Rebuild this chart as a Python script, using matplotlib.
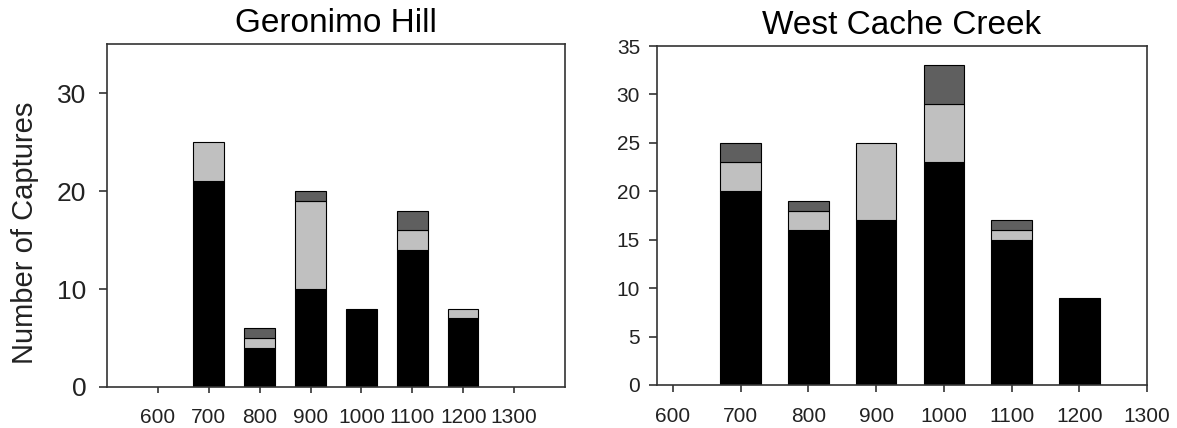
import numpy as np
import matplotlib
matplotlib.use("Agg")
import matplotlib.pyplot as plt

plt.rcParams['font.family'] = ['Liberation Sans', 'DejaVu Sans']

# Data: elevation classes (x) and stacked capture counts per panel
elev = [700, 800, 900, 1000, 1100, 1200]
tick_vals = [600, 700, 800, 900, 1000, 1100, 1200, 1300]

# Geronimo Hill
gh_black = [21, 4, 10, 8, 14, 7]
gh_light = [4, 1, 9, 0, 2, 1]
gh_dark = [0, 1, 1, 0, 2, 0]

# West Cache Creek
wc_black = [20, 16, 17, 23, 15, 9]
wc_light = [3, 2, 8, 6, 1, 0]
wc_dark = [2, 1, 0, 4, 1, 0]

c_black = 'black'
c_light = '#c0c0c0'
c_dark = '#5f5f5f'
spine_col = '#333333'
text_col = '#222222'

fig = plt.figure(figsize=(11.77, 4.28), dpi=100)
ax1 = fig.add_axes([0.0909, 0.0958, 0.480 - 0.0909, 0.897 - 0.0958])
ax2 = fig.add_axes([0.558, 0.1005, 0.9745 - 0.558, 0.8925 - 0.1005])


def stacked(ax, black, light, dark):
    x = np.array(elev)
    b = np.array(black)
    l = np.array(light)
    d = np.array(dark)
    ax.bar(x, b, width=60, color=c_black, edgecolor='black', linewidth=0.8)
    mask = l > 0
    ax.bar(x[mask], l[mask], bottom=b[mask], width=60, color=c_light,
           edgecolor='black', linewidth=0.8)
    mask = d > 0
    ax.bar(x[mask], d[mask], bottom=(b + l)[mask], width=60, color=c_dark,
           edgecolor='black', linewidth=0.8)
    for s in ax.spines.values():
        s.set_color(spine_col)
        s.set_linewidth(1.2)


stacked(ax1, gh_black, gh_light, gh_dark)
ax1.set_xlim(500, 1400)
ax1.set_ylim(0, 35)
ax1.set_yticks([0, 10, 20, 30])
ax1.set_xticks(tick_vals)
ax1.tick_params(axis='y', labelsize=19, length=6, width=1.2, pad=9,
                colors=spine_col, labelcolor=text_col)
ax1.tick_params(axis='x', labelsize=15, length=4, width=1.2, pad=11,
                colors=spine_col, labelcolor=text_col)
ax1.set_title('Geronimo Hill', fontsize=24, pad=9)
ax1.set_ylabel('Number of Captures', fontsize=21, color=text_col)
ax1.yaxis.set_label_coords(-0.148, 0.449)

stacked(ax2, wc_black, wc_light, wc_dark)
ax2.set_xlim(576, 1300)
ax2.set_ylim(0, 35)
ax2.set_yticks(np.arange(0, 36, 5))
ax2.set_xticks(tick_vals)
ax2.tick_params(axis='y', labelsize=15, length=6, width=1.2, pad=6,
                colors=spine_col, labelcolor=text_col)
ax2.tick_params(axis='x', labelsize=15, length=5, width=1.2, pad=11,
                colors=spine_col, labelcolor=text_col)
ax2.set_title('West Cache Creek', fontsize=24, pad=9)

fig.savefig('out.png', dpi=100)
